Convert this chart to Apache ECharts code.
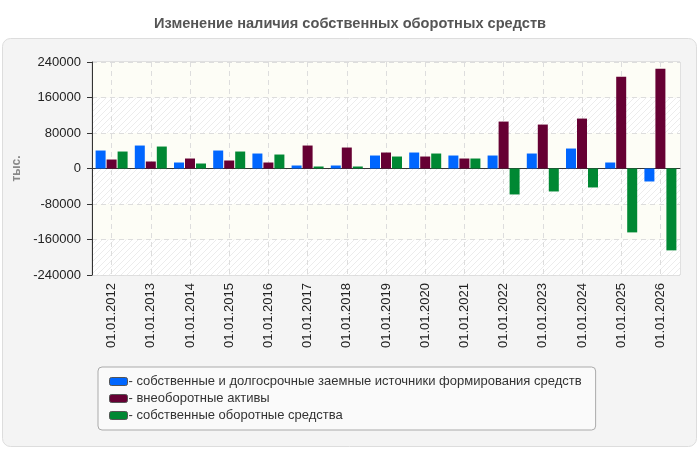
<!DOCTYPE html>
<html>
<head>
<meta charset="utf-8">
<script src="https://cdn.jsdelivr.net/npm/echarts@6/dist/echarts.min.js"></script>
<style>
  html, body { margin: 0; padding: 0; background: #fff; }
  #chart { width: 700px; height: 450px; }
</style>
</head>
<body>
<div id="chart"></div>
<script>
var dates = ['01.01.2012', '01.01.2013', '01.01.2014', '01.01.2015', '01.01.2016',
	'01.01.2017', '01.01.2018', '01.01.2019', '01.01.2020', '01.01.2021',
	'01.01.2022', '01.01.2023', '01.01.2024', '01.01.2025', '01.01.2026'];

// собственные и долгосрочные заемные источники
var sourcesData = [40500, 51750, 13500, 40500, 33750, 6750, 6750, 29250, 36000, 29250,
	29250, 33750, 45000, 13500, -29250];
// внеоборотные активы
var fixedData = [20250, 15750, 22500, 18000, 13500, 51750, 47250, 36000, 27000, 22500,
	105750, 99000, 112500, 207000, 225000];
// собственные оборотные средства
var workingData = [38250, 49500, 11250, 38250, 31500, 4500, 4500, 27000, 33750, 22500,
	-58500, -51750, -42750, -144000, -184500];

var seriesNames = [
	'собственные и долгосрочные заемные источники формирования средств',
	'внеоборотные активы',
	'собственные оборотные средства'
];
var seriesColors = ['#0066ff', '#660033', '#008833'];

// штриховка для полос сетки
function makeHatch(){
	var c = document.createElement('canvas');
	c.width = 6; c.height = 6;
	var ctx = c.getContext('2d');
	ctx.fillStyle = '#ffffff';
	ctx.fillRect(0, 0, 6, 6);
	ctx.strokeStyle = '#ececec';
	ctx.lineWidth = 1;
	ctx.beginPath();
	ctx.moveTo(-1, 7); ctx.lineTo(7, -1);
	ctx.moveTo(-4, 4); ctx.lineTo(4, -4);
	ctx.moveTo(2, 10); ctx.lineTo(10, 2);
	ctx.stroke();
	return c;
}

var chart = echarts.init(document.getElementById('chart'));
var fontFamily = 'Arial, "Liberation Sans", sans-serif';

var series = [sourcesData, fixedData, workingData].map(function(data, i){
	return {
		name: seriesNames[i],
		type: 'bar',
		data: data,
		barWidth: 10,
		barGap: '10%',
		itemStyle: { color: seriesColors[i] },
		emphasis: { disabled: true }
	};
});

var option = {
	animation: false,
	textStyle: { fontFamily: fontFamily },
	title: {
		text: 'Изменение наличия собственных оборотных средств',
		left: 'center',
		top: 11,
		textStyle: { fontSize: 14.6, fontWeight: 'bold', color: '#555' }
	},
	graphic: [{
		type: 'rect',
		z: -10,
		shape: { x: 2.5, y: 38.5, width: 694, height: 408, r: 8 },
		style: { fill: '#f4f4f4', stroke: '#dddddd', lineWidth: 1 }
	}],
	grid: {
		left: 92, right: 20, top: 62, bottom: 175,
		show: true,
		borderColor: '#cccccc',
		backgroundColor: 'transparent'
	},
	legend: {
		orient: 'vertical',
		left: 98, top: 367,
		padding: [8, 14, 8, 11],
		itemGap: 4,
		itemWidth: 18,
		itemHeight: 8,
		icon: 'roundRect',
		backgroundColor: '#fafafa',
		borderColor: '#aaaaaa',
		borderWidth: 1,
		borderRadius: 4,
		itemStyle: { borderColor: '#555', borderWidth: 1 },
		formatter: function(name){ return '- ' + name; },
		textStyle: { fontSize: 13, color: '#333', padding: [0, 0, 0, -4] },
		data: seriesNames
	},
	xAxis: {
		type: 'category',
		data: dates,
		axisLine: { lineStyle: { color: '#333' } },
		axisTick: { alignWithLabel: true, length: 5, lineStyle: { color: '#333' } },
		axisLabel: { rotate: 90, fontSize: 13, color: '#222', margin: 8 },
		splitLine: { show: true, alignWithLabel: true, lineStyle: { color: '#dddddd', type: [5, 4] } }
	},
	yAxis: {
		type: 'value',
		min: -240000, max: 240000, interval: 80000,
		name: 'тыс.',
		nameLocation: 'middle',
		nameRotate: 90,
		nameGap: 68,
		nameTextStyle: { fontSize: 12, fontWeight: 'bold', color: '#888' },
		axisLine: { show: true, lineStyle: { color: '#333' } },
		axisTick: { show: true, length: 5, lineStyle: { color: '#333' } },
		axisLabel: { fontSize: 13, color: '#222', margin: 11, formatter: function(v){ return String(v); } },
		splitLine: { lineStyle: { color: '#dddddd', type: [5, 4] } },
		splitArea: {
			show: true,
			areaStyle: { color: [{ image: makeHatch(), repeat: 'repeat' }, '#fdfdf6'] }
		}
	},
	series: series
};

chart.setOption(option);
</script>
</body>
</html>
